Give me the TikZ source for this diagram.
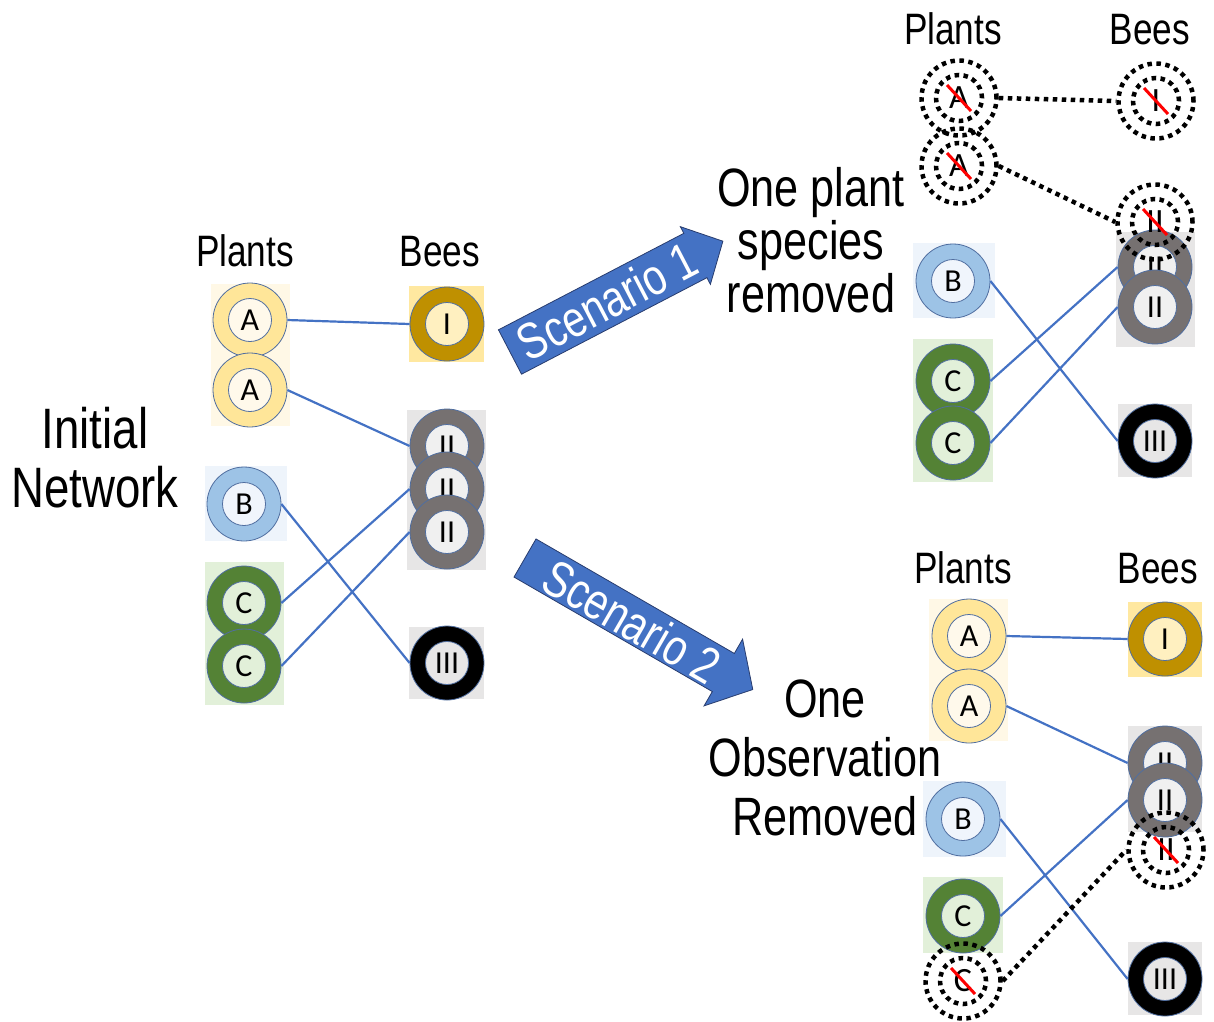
\documentclass[tikz,border=0pt]{standalone}
\usepackage{fontspec}
\newfontfamily\hfont[FakeStretch=0.8]{Liberation Sans}
\newfontfamily\cfont{Carlito}
\definecolor{outl}{RGB}{80,110,160}
\definecolor{edgeblue}{RGB}{68,114,196}
\definecolor{arrowblue}{RGB}{68,114,196}
\definecolor{arrowline}{RGB}{40,60,110}
\definecolor{bgA}{RGB}{255,248,230}
\definecolor{ringA}{RGB}{255,230,153}
\definecolor{coreA}{RGB}{255,249,235}
\definecolor{bgI}{RGB}{255,232,160}
\definecolor{ringI}{RGB}{191,144,0}
\definecolor{coreI}{RGB}{255,240,192}
\definecolor{bgG}{RGB}{231,230,230}
\definecolor{ringII}{RGB}{118,113,113}
\definecolor{coreII}{RGB}{240,240,240}
\definecolor{coreIII}{RGB}{231,230,230}
\definecolor{bgB}{RGB}{238,244,251}
\definecolor{ringB}{RGB}{157,195,230}
\definecolor{coreB}{RGB}{240,245,252}
\definecolor{bgC}{RGB}{226,240,217}
\definecolor{ringC}{RGB}{84,130,53}
\definecolor{coreC}{RGB}{226,240,217}
\tikzset{
 ring/.style={circle, minimum size=74pt, inner sep=0pt, line width=0.8pt, draw=outl},
 core/.style={circle, minimum size=43pt, inner sep=0pt, line width=0.8pt, draw=outl, font=\cfont\fontsize{32}{32}\selectfont},
 dring/.style={circle, minimum size=75pt, inner sep=0pt, draw=black, line width=4.5pt, dash pattern=on 4.5pt off 4.5pt},
 dcore/.style={circle, minimum size=46pt, inner sep=0pt, draw=black, line width=4.5pt, dash pattern=on 4.5pt off 4.5pt, font=\cfont\fontsize{34}{34}\selectfont},
 slash/.style={draw=red, line width=3pt},
 link/.style={draw=edgeblue, line width=2.2pt},
 dlink/.style={draw=black, line width=4.5pt, dash pattern=on 4.5pt off 4.5pt},
 head/.style={font=\hfont\fontsize{44}{44}\selectfont, anchor=base, inner sep=0pt},
 arrowshape/.style={fill=arrowblue, draw=arrowline, line width=0.8pt, line join=miter},
 arrowtext/.style={text=white, font=\hfont\fontsize{51}{51}\selectfont, inner sep=0pt}
}
\newcommand\myring[5]{\node[ring, fill=#3] (#1) at (#2) {};\node[core, fill=#4] (#1c) at (#2) {#5};}
\newcommand\mydot[3]{\node[dring] (#1) at (#2) {};\node[dcore] (#1c) at (#2) {#3};\draw[slash] (#1.center) ++(-12,-13) -- ++(24,26);}
\begin{document}
\begin{tikzpicture}[x=1pt,y=-1pt]
\useasboundingbox (0,0) rectangle (1214,1021);
% ---------- Initial network ----------
\node[head] (nplants) at (245,266) {Plants};
\node[head] (nbees) at (440,266) {Bees};
\node[font=\hfont\fontsize{57}{59}\selectfont, align=center, inner sep=0pt] (init) at (95,458) {Initial\\Network};
\fill[bgA] (211,284) rectangle (290,426);
\fill[bgI] (409,286) rectangle (484,362);
\fill[bgG] (407,410) rectangle (486,570);
\fill[bgG] (409,627) rectangle (484,699);
\fill[bgB] (205,466) rectangle (287,541);
\fill[bgC] (205,562) rectangle (284,705);
\myring{na1}{250,320}{ringA}{coreA}{A}
\myring{na2}{250,390}{ringA}{coreA}{A}
\myring{ni}{447,324}{ringI}{coreI}{I}
\myring{nii1}{447,446}{ringII}{coreII}{II}
\myring{nii2}{447,489}{ringII}{coreII}{II}
\myring{nii3}{447,532}{ringII}{coreII}{II}
\myring{niii}{447,663}{black}{coreIII}{III}
\myring{nb}{244,504}{ringB}{coreB}{B}
\myring{nc1}{244,603}{ringC}{coreC}{C}
\myring{nc2}{244,666}{ringC}{coreC}{C}
\draw[link] (na1.east) -- (ni.west);
\draw[link] (na2.east) -- (nii1.west);
\draw[link] (nb.east) -- (niii.west);
\draw[link] (nc1.east) -- (nii2.west);
\draw[link] (nc2.east) -- (nii3.west);
% ---------- Arrows ----------
\begin{scope}[shift={(510,352)}, rotate=27.5]
\path[arrowshape] (0,-25) -- (209,-25) -- (209,-32.5) -- (240,0) -- (209,32.5) -- (209,25) -- (0,25) -- cycle;
\end{scope}
\node[arrowtext, rotate=27.5] (s1) at (607,301) {Scenario 1};
\begin{scope}[shift={(525,558)}, rotate=-30]
\path[arrowshape] (0,-22) -- (229,-22) -- (229,-38.5) -- (263,0) -- (229,38.5) -- (229,22) -- (0,22) -- cycle;
\end{scope}
\node[arrowtext, rotate=-30] (s2) at (632,621) {Scenario 2};
\node[font=\hfont\fontsize{54}{53}\selectfont, align=center, inner sep=0pt] (t1) at (811,240) {One plant\\species\\removed};
\node[font=\hfont\fontsize{54}{59}\selectfont, align=center, inner sep=0pt] (t2) at (825,758) {One\\Observation\\Removed};
% ---------- Scenario 1 ----------
\node[head] (pplants) at (953,44) {Plants};
\node[head] (pbees) at (1150,44) {Bees};
\fill[bgB] (913,243) rectangle (995,318);
\fill[bgC] (913,339) rectangle (993,482);
\fill[bgG] (1116,232) rectangle (1195,347);
\fill[bgG] (1118,404) rectangle (1192,477);
\myring{pb}{953,281}{ringB}{coreB}{B}
\myring{pc1}{953,381}{ringC}{coreC}{C}
\myring{pc2}{953,443}{ringC}{coreC}{C}
\myring{pii1}{1155,267}{ringII}{coreII}{II}
\myring{pii2}{1155,307}{ringII}{coreII}{II}
\myring{piii}{1155,441}{black}{coreIII}{III}
\mydot{pa1}{959,98}{A}
\mydot{pa2}{959,166}{A}
\mydot{pi}{1156,101}{I}
\mydot{pii}{1155,222}{II}
\draw[dlink] (pa1.east) -- (pi.west);
\draw[dlink] (pa2.east) -- (pii.west);
\draw[link] (pb.east) -- (piii.west);
\draw[link] (pc1.east) -- (pii1.west);
\draw[link] (pc2.east) -- (pii2.west);
% ---------- Scenario 2 ----------
\node[head] (qplants) at (963,583) {Plants};
\node[head] (qbees) at (1158,583) {Bees};
\fill[bgA] (929,599) rectangle (1008,741);
\fill[bgI] (1128,602) rectangle (1202,677);
\fill[bgG] (1128,726) rectangle (1202,832);
\fill[bgB] (923,781) rectangle (1006,857);
\fill[bgC] (923,877) rectangle (1003,953);
\fill[bgG] (1128,942) rectangle (1202,1015);
\myring{qa1}{969,636}{ringA}{coreA}{A}
\myring{qa2}{969,706}{ringA}{coreA}{A}
\myring{qi}{1165,639}{ringI}{coreI}{I}
\myring{qii1}{1165,763}{ringII}{coreII}{II}
\myring{qii2}{1165,800}{ringII}{coreII}{II}
\myring{qb}{963,819}{ringB}{coreB}{B}
\myring{qc}{963,916}{ringC}{coreC}{C}
\myring{qiii}{1165,979}{black}{coreIII}{III}
\mydot{qii}{1166,850}{II}
\mydot{qcx}{963,981}{C}
\draw[link] (qa1.east) -- (qi.west);
\draw[link] (qa2.east) -- (qii1.west);
\draw[link] (qb.east) -- (qiii.west);
\draw[link] (qc.east) -- (qii2.west);
\draw[dlink] (qcx.east) -- (qii.west);
\end{tikzpicture}
\end{document}
